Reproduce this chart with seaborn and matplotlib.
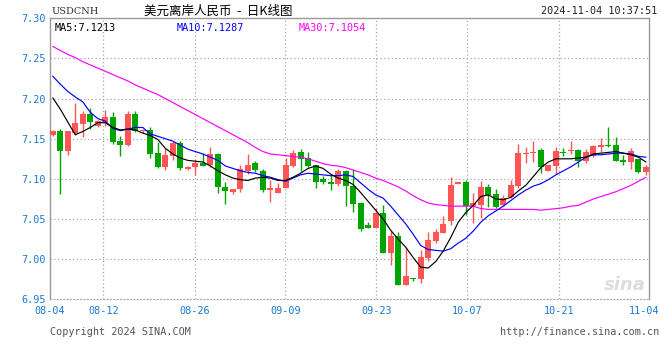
import matplotlib
matplotlib.use('Agg')
import matplotlib.pyplot as plt
import numpy as np
import pandas as pd
import seaborn as sns

# USDCNH daily K-line, 80 bars
open_ = [7.1542, 7.1592, 7.1346, 7.1575, 7.1679, 7.1804, 7.1658, 7.1708, 7.1767, 7.1467,
         7.1417, 7.1804, 7.1600, 7.1608, 7.1317, 7.1146, 7.1279, 7.1442, 7.1121, 7.1146,
         7.1200, 7.1167, 7.1304, 7.0904, 7.0833, 7.0875, 7.1096, 7.1192, 7.1104, 7.0858,
         7.0821, 7.0883, 7.1158, 7.1329, 7.1254, 7.1167, 7.1000, 7.0967, 7.0933, 7.1092,
         7.0917, 7.0704, 7.0429, 7.0383, 7.0575, 7.0071, 7.0292, 6.9683, 6.9763, 6.9758,
         7.0013, 7.0229, 7.0321, 7.0471, 7.0933, 7.0967, 7.0667, 7.0679, 7.0904, 7.0817,
         7.0679, 7.0775, 7.0917, 7.1308, 7.1325, 7.1354, 7.1096, 7.1158, 7.1333, 7.1342,
         7.1358, 7.1217, 7.1279, 7.1400, 7.1417, 7.1417, 7.1229, 7.1208, 7.1250, 7.1083]
high = [7.1613, 7.1625, 7.1600, 7.1942, 7.1850, 7.1888, 7.1733, 7.1854, 7.1833, 7.1529,
        7.1846, 7.1842, 7.1625, 7.1642, 7.1458, 7.1388, 7.1467, 7.1475, 7.1163, 7.1233,
        7.1325, 7.1400, 7.1317, 7.0967, 7.0875, 7.1179, 7.1304, 7.1217, 7.1117, 7.0992,
        7.0946, 7.1258, 7.1354, 7.1367, 7.1329, 7.1179, 7.1033, 7.1042, 7.1117, 7.1108,
        7.1117, 7.0717, 7.0458, 7.0638, 7.0679, 7.0354, 7.0342, 7.0146, 6.9763, 7.0117,
        7.0342, 7.0375, 7.0542, 7.1029, 7.0967, 7.0988, 7.0829, 7.0979, 7.0942, 7.0875,
        7.0800, 7.0992, 7.1429, 7.1392, 7.1467, 7.1383, 7.1179, 7.1396, 7.1383, 7.1471,
        7.1371, 7.1371, 7.1417, 7.1508, 7.1642, 7.1517, 7.1300, 7.1388, 7.1250, 7.1167]
low = [7.1540, 7.0808, 7.1292, 7.1550, 7.1520, 7.1625, 7.1646, 7.1658, 7.1433, 7.1283,
       7.1408, 7.1583, 7.1575, 7.1258, 7.1133, 7.1108, 7.1238, 7.1108, 7.1108, 7.1042,
       7.1158, 7.1154, 7.0821, 7.0683, 7.0808, 7.0833, 7.1063, 7.1083, 7.0833, 7.0708,
       7.0821, 7.0883, 7.1146, 7.1104, 7.1146, 7.0883, 7.0942, 7.0858, 7.0913, 7.0667,
       7.0583, 7.0354, 7.0388, 7.0383, 7.0071, 6.9925, 6.9675, 6.9683, 6.9733, 6.9708,
       6.9979, 7.0204, 7.0321, 7.0429, 7.0933, 7.0554, 7.0446, 7.0508, 7.0654, 7.0642,
       7.0667, 7.0763, 7.0883, 7.1192, 7.1208, 7.1075, 7.1096, 7.1058, 7.1283, 7.1308,
       7.1146, 7.1200, 7.1271, 7.1329, 7.1392, 7.1221, 7.1175, 7.1125, 7.1075, 7.1042]
close = [7.1592, 7.1346, 7.1592, 7.1692, 7.1804, 7.1708, 7.1725, 7.1767, 7.1458, 7.1417,
         7.1804, 7.1596, 7.1608, 7.1304, 7.1146, 7.1292, 7.1450, 7.1133, 7.1154, 7.1196,
         7.1158, 7.1304, 7.0896, 7.0846, 7.0875, 7.1117, 7.1179, 7.1108, 7.0858, 7.0892,
         7.0892, 7.1167, 7.1317, 7.1250, 7.1158, 7.0967, 7.0958, 7.0933, 7.1092, 7.0908,
         7.0683, 7.0375, 7.0388, 7.0575, 7.0071, 7.0292, 6.9683, 6.9792, 6.9754, 7.0029,
         7.0242, 7.0342, 7.0442, 7.0929, 7.0967, 7.0667, 7.0696, 7.0904, 7.0804, 7.0646,
         7.0767, 7.0925, 7.1317, 7.1317, 7.1333, 7.1146, 7.1167, 7.1342, 7.1325, 7.1358,
         7.1225, 7.1333, 7.1404, 7.1417, 7.1404, 7.1221, 7.1208, 7.1350, 7.1083, 7.1146]

# moving-average lines as drawn (history before 08-04 is not visible, so read directly)
ma5 = [7.201, 7.187, 7.171, 7.155, 7.159, 7.164, 7.170, 7.170, 7.164, 7.161,
       7.162, 7.161, 7.157, 7.154, 7.149, 7.138, 7.131, 7.126, 7.123, 7.122,
       7.121, 7.116, 7.110, 7.105, 7.101, 7.099, 7.098, 7.101, 7.102, 7.101,
       7.098, 7.098, 7.102, 7.107, 7.113, 7.116, 7.113, 7.106, 7.101, 7.098,
       7.093, 7.083, 7.072, 7.061, 7.050, 7.036, 7.025, 7.015, 7.002, 6.990,
       6.989, 6.997, 7.010, 7.027, 7.046, 7.058, 7.067, 7.078, 7.080, 7.075,
       7.074, 7.077, 7.085, 7.092, 7.103, 7.114, 7.121, 7.125, 7.125, 7.125,
       7.126, 7.127, 7.131, 7.132, 7.133, 7.134, 7.132, 7.130, 7.127, 7.121]
ma10 = [7.228, 7.218, 7.209, 7.202, 7.196, 7.183, 7.175, 7.172, 7.163, 7.160,
        7.162, 7.164, 7.164, 7.156, 7.153, 7.150, 7.147, 7.142, 7.137, 7.134,
        7.131, 7.127, 7.123, 7.116, 7.113, 7.110, 7.108, 7.107, 7.104, 7.102,
        7.099, 7.097, 7.101, 7.105, 7.107, 7.106, 7.105, 7.104, 7.104, 7.105,
        7.103, 7.095, 7.087, 7.080, 7.076, 7.066, 7.055, 7.044, 7.031, 7.017,
        7.012, 7.011, 7.010, 7.013, 7.020, 7.026, 7.035, 7.046, 7.054, 7.060,
        7.066, 7.073, 7.080, 7.086, 7.091, 7.094, 7.099, 7.105, 7.110, 7.115,
        7.121, 7.127, 7.130, 7.130, 7.131, 7.132, 7.132, 7.131, 7.128, 7.127]
ma30 = [7.265, 7.260, 7.255, 7.251, 7.246, 7.242, 7.238, 7.234, 7.230, 7.226,
        7.222, 7.217, 7.213, 7.209, 7.205, 7.200, 7.195, 7.190, 7.185, 7.180,
        7.175, 7.170, 7.165, 7.160, 7.155, 7.150, 7.145, 7.139, 7.134, 7.131,
        7.130, 7.129, 7.128, 7.127, 7.125, 7.122, 7.119, 7.117, 7.116, 7.114,
        7.111, 7.108, 7.105, 7.101, 7.098, 7.094, 7.090, 7.085, 7.079, 7.074,
        7.070, 7.068, 7.067, 7.066, 7.066, 7.066, 7.066, 7.063, 7.062, 7.062,
        7.062, 7.062, 7.062, 7.062, 7.062, 7.061, 7.062, 7.063, 7.064, 7.066,
        7.067, 7.071, 7.075, 7.078, 7.081, 7.084, 7.088, 7.092, 7.097, 7.102]

date_labels = ['08-04', '08-12', '08-26', '09-09', '09-23', '10-07', '10-21', '11-04']
date_pos = [-0.36, 6.74, 18.9, 30.97, 43.1, 55.2, 67.4, 78.8]
y_ticks = [6.95, 7.00, 7.05, 7.10, 7.15, 7.20, 7.25, 7.30]

RED = '#ff5555'
GREEN = '#00a400'
BLUE_TXT = '#1a7ad4'
MONO = 'DejaVu Sans Mono'


def plot_chart():
    sns.set_style('white')
    plt.rcParams['font.family'] = ['DejaVu Sans', 'Noto Sans CJK SC']

    df = pd.DataFrame({'open': open_, 'high': high, 'low': low, 'close': close,
                       'ma5': ma5, 'ma10': ma10, 'ma30': ma30})
    df['idx'] = np.arange(len(df))
    df['up'] = df['close'] >= df['open']

    fig = plt.figure(figsize=(6.6, 3.6), dpi=100)
    ax = fig.add_axes([50 / 660, 1 - 299.3 / 360, 599 / 660, 281 / 360])

    # dotted grid
    for v in y_ticks[1:-1]:
        ax.axhline(v, color='#a8a8a8', lw=0.9, ls=(0, (1, 2)), zorder=0)
    for p in date_pos[1:-1]:
        ax.axvline(p, color='#a8a8a8', lw=0.9, ls=(0, (1, 2)), zorder=0)

    # candles
    colors = np.where(df['up'], RED, GREEN)
    ax.vlines(df['idx'], df['low'], df['high'], colors=colors, lw=1, zorder=2)
    body_lo = df[['open', 'close']].min(axis=1)
    body_h = (df['open'] - df['close']).abs().clip(lower=0.0012)
    ax.bar(df['idx'], body_h, bottom=body_lo, width=0.8, color=colors,
           linewidth=0, zorder=3)

    # moving averages
    sns.lineplot(data=df, x='idx', y='ma30', color='#ff00ff', lw=0.85, ax=ax, zorder=4)
    sns.lineplot(data=df, x='idx', y='ma10', color='#0000ff', lw=0.85, ax=ax, zorder=4)
    sns.lineplot(data=df, x='idx', y='ma5', color='black', lw=0.85, ax=ax, zorder=5)

    ax.set_xlim(-0.36, 79.4)
    ax.set_ylim(6.95, 7.30)
    ax.set_xlabel('')
    ax.set_ylabel('')
    ax.set_yticks(y_ticks)
    ax.set_yticklabels([f'{v:.2f}' for v in y_ticks], family=MONO, fontsize=7.3,
                       color=BLUE_TXT)
    ax.set_xticks(date_pos)
    ax.set_xticklabels(date_labels, family=MONO, fontsize=7.3, color=BLUE_TXT)
    ax.tick_params(length=0, pad=3)
    ax.tick_params(axis='x', pad=5)

    for side in ['left', 'right', 'top']:
        ax.spines[side].set_color('#999999')
        ax.spines[side].set_linewidth(1)
    ax.spines['bottom'].set_color('#aaaaaa')
    ax.spines['bottom'].set_linestyle((0, (1, 2)))

    # legend row of MA values
    ax.text(0.008, 0.985, 'MA5:7.1213', transform=ax.transAxes, family=MONO,
            fontsize=7.3, color='black', va='top')
    ax.text(0.212, 0.985, 'MA10:7.1287', transform=ax.transAxes, family=MONO,
            fontsize=7.3, color='#0000ff', va='top')
    ax.text(0.415, 0.985, 'MA30:7.1054', transform=ax.transAxes, family=MONO,
            fontsize=7.3, color='#ff00ff', va='top')

    # header / footer
    fig.text(52 / 660, 1 - 11 / 360, 'USDCNH', family='DejaVu Serif', fontsize=7,
             color='#333333', va='center')
    fig.text(218 / 660, 1 - 11 / 360, '美元离岸人民币  -  日K线图',
             family=['Noto Sans CJK SC', 'DejaVu Sans'], fontsize=9, color='black',
             ha='center', va='center')
    fig.text(657 / 660, 1 - 11 / 360, '2024-11-04 10:37:51', family=MONO,
             fontsize=7.3, color='#222222', ha='right', va='center')
    fig.text(50 / 660, 1 - 332 / 360, 'Copyright 2024 SINA.COM', family=MONO,
             fontsize=7.3, color='#555555', va='center')
    fig.text(659 / 660, 1 - 332 / 360, 'http://finance.sina.com.cn', family=MONO,
             fontsize=7.3, color='#555555', ha='right', va='center')
    ax.text(0.995, 0.02, 'sina', transform=ax.transAxes, fontsize=13,
            fontstyle='italic', fontweight='bold', color='#dddddd', ha='right',
            va='bottom', zorder=1)

    fig.savefig('out.png', dpi=100)


plot_chart()
